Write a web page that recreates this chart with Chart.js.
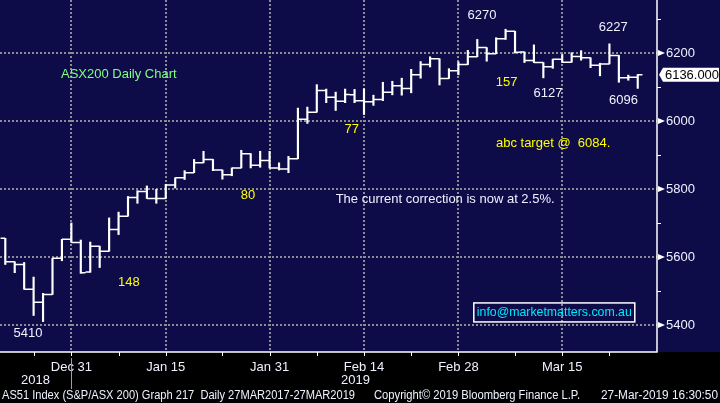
<!DOCTYPE html>
<html>
<head>
<meta charset="utf-8">
<script src="https://cdn.jsdelivr.net/npm/chart.js@4.4.1/dist/chart.umd.min.js"></script>
<style>
  html, body { margin: 0; padding: 0; background: #000; }
</style>
</head>
<body>
<canvas id="asx-chart" width="720" height="403"></canvas>
<script>
// ASX200 daily bars, 18 Dec 2018 - 27 Mar 2019
const TRADING_DAYS = [
  'Dec 18', 'Dec 19', 'Dec 20', 'Dec 21', 'Dec 24', 'Dec 27', 'Dec 28', 'Dec 31',
  'Jan 2', 'Jan 3', 'Jan 4', 'Jan 7', 'Jan 8', 'Jan 9', 'Jan 10', 'Jan 11', 'Jan 14', 'Jan 15',
  'Jan 16', 'Jan 17', 'Jan 18', 'Jan 21', 'Jan 22', 'Jan 23', 'Jan 24', 'Jan 25', 'Jan 29', 'Jan 30', 'Jan 31',
  'Feb 1', 'Feb 4', 'Feb 5', 'Feb 6', 'Feb 7', 'Feb 8', 'Feb 11', 'Feb 12', 'Feb 13', 'Feb 14',
  'Feb 15', 'Feb 18', 'Feb 19', 'Feb 20', 'Feb 21', 'Feb 22', 'Feb 25', 'Feb 26', 'Feb 27', 'Feb 28',
  'Mar 1', 'Mar 4', 'Mar 5', 'Mar 6', 'Mar 7', 'Mar 8', 'Mar 11', 'Mar 12', 'Mar 13', 'Mar 14', 'Mar 15',
  'Mar 18', 'Mar 19', 'Mar 20', 'Mar 21', 'Mar 22', 'Mar 25', 'Mar 26', 'Mar 27'
];
const OPEN = [
  5655, 5586, 5578, 5505, 5467, 5490, 5596, 5652, 5643, 5556,
  5632, 5617, 5681, 5720, 5775, 5793, 5772, 5772, 5812, 5833,
  5848, 5877, 5887, 5856, 5842, 5862, 5904, 5870, 5884, 5862,
  5859, 5889, 6005, 6026, 6090, 6070, 6058, 6077, 6060, 6057,
  6063, 6085, 6104, 6096, 6136, 6166, 6183, 6125, 6148, 6166,
  6189, 6216, 6198, 6242, 6264, 6203, 6178, 6172, 6160, 6182,
  6173, 6190, 6186, 6164, 6168, 6193, 6127, 6129
];
const HIGH = [
  5655, 5586, 5584, 5541, 5493, 5596, 5652, 5700, 5650, 5644,
  5632, 5715, 5732, 5778, 5795, 5809, 5799, 5814, 5833, 5854,
  5887, 5911, 5887, 5856, 5862, 5914, 5904, 5911, 5911, 5877,
  5896, 6038, 6041, 6107, 6094, 6085, 6094, 6093, 6095, 6076,
  6114, 6117, 6126, 6152, 6175, 6189, 6183, 6154, 6174, 6208,
  6240, 6216, 6245, 6270, 6264, 6203, 6224, 6172, 6182, 6196,
  6201, 6207, 6186, 6170, 6227, 6193, 6135, 6137
];
const LOW = [
  5578, 5554, 5505, 5428, 5410, 5490, 5589, 5643, 5552, 5555,
  5569, 5617, 5666, 5720, 5758, 5772, 5758, 5772, 5803, 5828,
  5848, 5877, 5854, 5829, 5839, 5862, 5862, 5864, 5862, 5856,
  5848, 5889, 5993, 6026, 6054, 6031, 6054, 6054, 6019, 6046,
  6060, 6077, 6076, 6083, 6126, 6159, 6106, 6125, 6136, 6166,
  6189, 6176, 6198, 6240, 6200, 6172, 6172, 6127, 6155, 6172,
  6173, 6179, 6157, 6133, 6168, 6114, 6120, 6096
];
const CLOSE = [
  5586, 5578, 5505, 5467, 5490, 5596, 5652, 5643, 5554, 5632,
  5617, 5681, 5720, 5775, 5793, 5772, 5772, 5812, 5833, 5848,
  5877, 5887, 5856, 5842, 5862, 5904, 5870, 5884, 5862, 5859,
  5889, 6005, 6026, 6090, 6070, 6058, 6078, 6060, 6057, 6063,
  6085, 6104, 6096, 6136, 6166, 6183, 6125, 6148, 6166, 6189,
  6216, 6198, 6242, 6264, 6202, 6178, 6172, 6160, 6182, 6173,
  6190, 6186, 6164, 6168, 6193, 6127, 6129, 6136
];

const X_TICK_DAYS = ['Dec 31', 'Jan 15', 'Jan 31', 'Feb 14', 'Feb 28', 'Mar 15'];
const X_MINOR_DAYS = ['Dec 21', 'Jan 8', 'Jan 23', 'Feb 7', 'Feb 21', 'Mar 8', 'Mar 22'];
const Y_TICKS = [5400, 5600, 5800, 6000, 6200];
const Y_MINOR_TICKS = [5500, 5700, 5900, 6100, 6300];
const YEAR_LABELS = ['2018', '2019'];
const YEAR_LABEL_DAYS = [3.2, 37.1];
const LAST_PRICE = 6136;

const X_MIN = -0.56;
const X_MAX = 69.04;
const Y_MIN = 5320.6;
const Y_MAX = 6356;

const NAVY = '#0e0c48';
const TEXT_WHITE = '#eef2ff';
const YELLOW = '#ffff00';
const FONT = 'Liberation Sans, Arial, sans-serif';

// text notes on the plot, placed in data units (day index, price)
const NOTES = [
  { text: 'ASX200 Daily Chart', day: 5.9, price: 6138, color: '#80ff80', align: 'left' },
  { text: '5410', day: 2.4, price: 5376, color: TEXT_WHITE, align: 'center' },
  { text: '148', day: 13.1, price: 5524, color: YELLOW, align: 'center' },
  { text: '80', day: 25.7, price: 5782, color: YELLOW, align: 'center' },
  { text: '77', day: 36.7, price: 5974, color: YELLOW, align: 'center' },
  { text: 'The current correction is now at 2.5%.', day: 35.0, price: 5768, color: TEXT_WHITE, align: 'left' },
  { text: '6270', day: 50.5, price: 6312, color: TEXT_WHITE, align: 'center' },
  { text: '157', day: 53.1, price: 6115, color: YELLOW, align: 'center' },
  { text: '6127', day: 57.5, price: 6082, color: TEXT_WHITE, align: 'center' },
  { text: '6227', day: 64.4, price: 6274, color: TEXT_WHITE, align: 'center' },
  { text: '6096', day: 65.5, price: 6062, color: TEXT_WHITE, align: 'center' },
  { text: 'abc target @  6084.', day: 51.98, price: 5935, color: YELLOW, align: 'left' }
];
const EMAIL = { text: 'info@marketmatters.com.au', day: 49.95, price: 5437, width: 155 };

const FOOTER = [
  { text: 'AS51 Index (S&P/ASX 200) Graph 217  Daily 27MAR2017-27MAR2019', x: 2, w: 353 },
  { text: 'Copyright\u00a9 2019 Bloomberg Finance L.P.', x: 374, w: 206 },
  { text: '27-Mar-2019 16:30:50', x: 601, w: 117 }
];

const dayIndex = (d) => TRADING_DAYS.indexOf(d);
const rangeData = TRADING_DAYS.map((d, i) => ({ x: i, y: [LOW[i], HIGH[i]] }));

const backgroundPlugin = {
  id: 'bloombergBackground',
  beforeDraw(chart) {
    const { ctx, width, height, chartArea } = chart;
    ctx.save();
    ctx.fillStyle = '#000';
    ctx.fillRect(0, 0, width, height);
    ctx.fillStyle = NAVY;
    ctx.fillRect(0, 0, width, chartArea.bottom);
    ctx.restore();
  }
};

const gridPlugin = {
  id: 'dottedGrid',
  beforeDatasetsDraw(chart) {
    const { ctx, chartArea, scales: { x, y } } = chart;
    ctx.save();
    ctx.strokeStyle = '#8c8c96';
    ctx.lineWidth = 2;
    ctx.setLineDash([2, 2]);
    ctx.beginPath();
    Y_TICKS.forEach(v => {
      const py = Math.round(y.getPixelForValue(v));
      ctx.moveTo(chartArea.left, py);
      ctx.lineTo(chartArea.right, py);
    });
    X_TICK_DAYS.forEach(d => {
      const px = Math.round(x.getPixelForValue(dayIndex(d)));
      ctx.moveTo(px, chartArea.top);
      ctx.lineTo(px, chartArea.bottom);
    });
    ctx.stroke();
    ctx.restore();
  }
};

const ohlcTicksPlugin = {
  id: 'ohlcTicks',
  afterDatasetsDraw(chart) {
    const { ctx, scales: { x, y } } = chart;
    const half = (x.getPixelForValue(1) - x.getPixelForValue(0)) / 2;
    ctx.save();
    ctx.strokeStyle = '#ffffff';
    ctx.lineWidth = 1.5;
    ctx.beginPath();
    TRADING_DAYS.forEach((d, i) => {
      const px = x.getPixelForValue(i);
      const po = y.getPixelForValue(OPEN[i]);
      const pc = y.getPixelForValue(CLOSE[i]);
      ctx.moveTo(px - half, po);
      ctx.lineTo(px, po);
      ctx.moveTo(px, pc);
      ctx.lineTo(px + half, pc);
    });
    ctx.stroke();
    ctx.restore();
  }
};

const decorationsPlugin = {
  id: 'decorations',
  afterDraw(chart) {
    const { ctx, chartArea, scales: { x, y } } = chart;
    const right = chartArea.right;
    const bottom = chartArea.bottom;
    ctx.save();

    // axis lines
    ctx.strokeStyle = '#ffffff';
    ctx.lineWidth = 1.5;
    ctx.beginPath();
    ctx.moveTo(right, 0);
    ctx.lineTo(right, bottom);
    ctx.lineTo(0, bottom);
    ctx.stroke();

    // minor ticks on both axes
    ctx.lineWidth = 1;
    ctx.beginPath();
    Y_MINOR_TICKS.forEach(v => {
      const py = Math.round(y.getPixelForValue(v)) + 0.5;
      ctx.moveTo(right, py);
      ctx.lineTo(right + 4, py);
    });
    X_TICK_DAYS.concat(X_MINOR_DAYS).forEach(d => {
      const px = Math.round(x.getPixelForValue(dayIndex(d))) + 0.5;
      ctx.moveTo(px, bottom);
      ctx.lineTo(px, bottom + 4);
    });
    ctx.stroke();

    // pointer triangles at the labelled prices
    ctx.fillStyle = '#ffffff';
    Y_TICKS.forEach(v => {
      const py = y.getPixelForValue(v);
      ctx.beginPath();
      ctx.moveTo(right + 1, py - 3);
      ctx.lineTo(right + 8, py);
      ctx.lineTo(right + 1, py + 3);
      ctx.closePath();
      ctx.fill();
    });

    // last price box
    const lp = y.getPixelForValue(LAST_PRICE);
    ctx.beginPath();
    ctx.moveTo(right + 2, lp);
    ctx.lineTo(right + 6, lp - 7);
    ctx.lineTo(chart.width - 1, lp - 7);
    ctx.lineTo(chart.width - 1, lp + 7);
    ctx.lineTo(right + 6, lp + 7);
    ctx.closePath();
    ctx.fill();
    ctx.fillStyle = '#000';
    ctx.font = '13px ' + FONT;
    ctx.textBaseline = 'middle';
    ctx.textAlign = 'left';
    ctx.fillText(LAST_PRICE.toFixed(3), right + 8, lp + 1, chart.width - right - 9);

    // year boundary and year labels
    const sep = Math.round(x.getPixelForValue(dayIndex('Dec 31'))) + 0.5;
    ctx.strokeStyle = '#a0a0a0';
    ctx.beginPath();
    ctx.moveTo(sep, bottom + 6);
    ctx.lineTo(sep, 389);
    ctx.stroke();
    ctx.fillStyle = TEXT_WHITE;
    ctx.textAlign = 'center';
    YEAR_LABELS.forEach((t, i) => {
      ctx.fillText(t, x.getPixelForValue(YEAR_LABEL_DAYS[i]), 380);
    });

    // footer
    ctx.font = '12px ' + FONT;
    ctx.textAlign = 'left';
    FOOTER.forEach(f => ctx.fillText(f.text, f.x, 396, f.w));

    // notes
    ctx.font = '13px ' + FONT;
    NOTES.forEach(n => {
      ctx.fillStyle = n.color;
      ctx.textAlign = n.align;
      ctx.fillText(n.text, x.getPixelForValue(n.day), y.getPixelForValue(n.price));
    });

    // e-mail box
    const ex = x.getPixelForValue(EMAIL.day);
    const ey = y.getPixelForValue(EMAIL.price);
    ctx.fillStyle = '#00e8ff';
    ctx.textAlign = 'left';
    ctx.fillText(EMAIL.text, ex, ey, EMAIL.width);
    ctx.strokeStyle = '#ffffff';
    ctx.lineWidth = 1.5;
    ctx.strokeRect(ex - 3, ey - 9.5, EMAIL.width + 6, 19);

    ctx.restore();
  }
};

const asxChartCanvas = document.getElementById('asx-chart');

const asxChart = new Chart(asxChartCanvas, {
  type: 'bar',
  data: {
    datasets: [{
      data: rangeData,
      backgroundColor: '#ffffff',
      borderWidth: 0,
      barThickness: 1.5,
      grouped: false
    }]
  },
  options: {
    responsive: false,
    animation: false,
    events: [],
    layout: { padding: 0 },
    plugins: {
      legend: { display: false },
      tooltip: { enabled: false }
    },
    scales: {
      x: {
        type: 'linear',
        position: 'bottom',
        bounds: 'data',
        offset: false,
        min: X_MIN,
        max: X_MAX,
        grid: { display: false, drawTicks: false, offset: false },
        border: { display: false },
        afterBuildTicks: (scale) => {
          scale.ticks = X_TICK_DAYS.map(d => ({ value: dayIndex(d) }));
        },
        afterFit: (scale) => {
          scale.height = 51;
          scale.paddingLeft = 0;
          scale.paddingRight = 0;
        },
        ticks: {
          autoSkip: false,
          maxRotation: 0,
          padding: 8,
          color: TEXT_WHITE,
          font: { family: FONT, size: 13 },
          callback: (value) => TRADING_DAYS[value]
        }
      },
      y: {
        type: 'linear',
        position: 'right',
        bounds: 'data',
        min: Y_MIN,
        max: Y_MAX,
        grid: { display: false, drawTicks: false },
        border: { display: false },
        afterBuildTicks: (scale) => {
          scale.ticks = Y_TICKS.map(v => ({ value: v }));
        },
        afterFit: (scale) => {
          scale.width = 63;
          scale.paddingTop = 0;
          scale.paddingBottom = 0;
        },
        ticks: {
          padding: 9,
          color: TEXT_WHITE,
          font: { family: FONT, size: 13 },
          callback: (value) => String(value)
        }
      }
    }
  },
  plugins: [backgroundPlugin, gridPlugin, ohlcTicksPlugin, decorationsPlugin]
});
</script>
</body>
</html>
